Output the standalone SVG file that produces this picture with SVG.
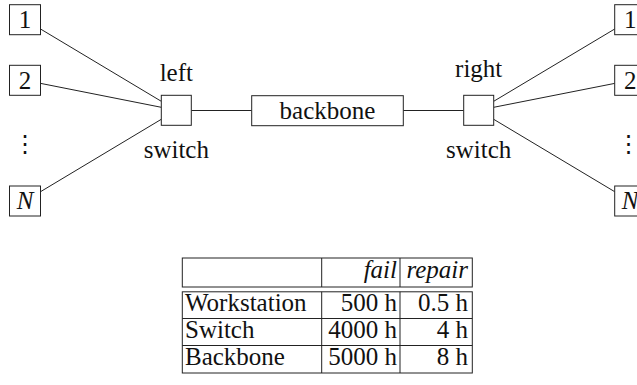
<svg xmlns="http://www.w3.org/2000/svg" width="637" height="385" viewBox="0 0 637 385">
<style>
.box{fill:#fff;stroke:#222;stroke-width:1}
.ln{stroke:#222;stroke-width:1;fill:none}
.t{font-family:'Liberation Serif','Tinos','Times New Roman','Noto Serif','DejaVu Serif','FreeSerif',Times,serif;font-size:25px;fill:#111}
.it{font-style:italic}
.c{text-anchor:middle}
.r{text-anchor:end}
.dots{font-family:'DejaVu Serif','DejaVu Sans',serif;font-size:24px;fill:#111}
</style>
<rect width="637" height="385" fill="#fff"/>
<g id="connectors">
<line class="ln" x1="40.7" y1="29.1" x2="161.3" y2="101.3"/>
<line class="ln" x1="40.7" y1="83.4" x2="161.3" y2="107.3"/>
<line class="ln" x1="40.7" y1="191.6" x2="161.3" y2="119.3"/>
<line class="ln" x1="191.3" y1="110.5" x2="251.7" y2="110.5"/>
<line class="ln" x1="403.3" y1="110.5" x2="463.7" y2="110.5"/>
<line class="ln" x1="493.7" y1="101.3" x2="614.7" y2="29.0"/>
<line class="ln" x1="493.7" y1="107.3" x2="614.7" y2="83.4"/>
<line class="ln" x1="493.7" y1="119.3" x2="614.7" y2="191.7"/>
</g>
<g id="left1"><rect class="box" x="9.5" y="4.7" width="31" height="30"/><text class="t c" x="25" y="28">1</text></g>
<g id="left2"><rect class="box" x="9.5" y="65.3" width="31" height="30"/><text class="t c" x="25" y="88.6">2</text></g>
<g id="leftdots"><text class="c dots" x="25" y="152">⋮</text></g>
<g id="leftN"><rect class="box" x="9.5" y="186" width="31" height="30"/><text class="t c it" x="25" y="209.3">N</text></g>
<g id="leftswitch"><rect class="box" x="161.3" y="95.3" width="30" height="30"/><text class="t c" x="176.3" y="80.5">left</text><text class="t c" x="176.3" y="158">switch</text></g>
<g id="backbone"><rect class="box" x="251.7" y="95.7" width="151.6" height="30"/><text class="t c" x="327.5" y="118.8">backbone</text></g>
<g id="rightswitch"><rect class="box" x="463.7" y="95.3" width="30" height="30"/><text class="t c" x="478.7" y="76.5">right</text><text class="t c" x="478.7" y="158">switch</text></g>
<g id="right1"><rect class="box" x="614.7" y="4.7" width="31" height="30"/><text class="t c" x="630.2" y="28">1</text></g>
<g id="right2"><rect class="box" x="614.7" y="65.3" width="31" height="30"/><text class="t c" x="630.2" y="88.6">2</text></g>
<g id="rightdots"><text class="c dots" x="628.5" y="152">⋮</text></g>
<g id="rightN"><rect class="box" x="614.7" y="186" width="31" height="30"/><text class="t c it" x="630.2" y="209.3">N</text></g>
<g id="table">
<rect class="ln" x="182.3" y="258" width="290" height="29"/>
<line class="ln" x1="321.7" y1="258" x2="321.7" y2="287"/>
<line class="ln" x1="400" y1="258" x2="400" y2="287"/>
<rect class="ln" x="182.3" y="291.8" width="290" height="81.2"/>
<line class="ln" x1="321.7" y1="291.8" x2="321.7" y2="373"/>
<line class="ln" x1="400" y1="291.8" x2="400" y2="373"/>
<line class="ln" x1="182.3" y1="318.5" x2="472.3" y2="318.5"/>
<line class="ln" x1="182.3" y1="345.5" x2="472.3" y2="345.5"/>
<text class="t r it" x="397" y="278.3">fail</text>
<text class="t r it" x="468" y="278.3">repair</text>
<text class="t" x="185" y="310.5">Workstation</text>
<text class="t r" x="397" y="310.5">500 h</text>
<text class="t r" x="468" y="310.5">0.5 h</text>
<text class="t" x="185" y="337.5">Switch</text>
<text class="t r" x="397" y="337.5">4000 h</text>
<text class="t r" x="468" y="337.5">4 h</text>
<text class="t" x="185" y="364.5">Backbone</text>
<text class="t r" x="397" y="364.5">5000 h</text>
<text class="t r" x="468" y="364.5">8 h</text>
</g>
</svg>
